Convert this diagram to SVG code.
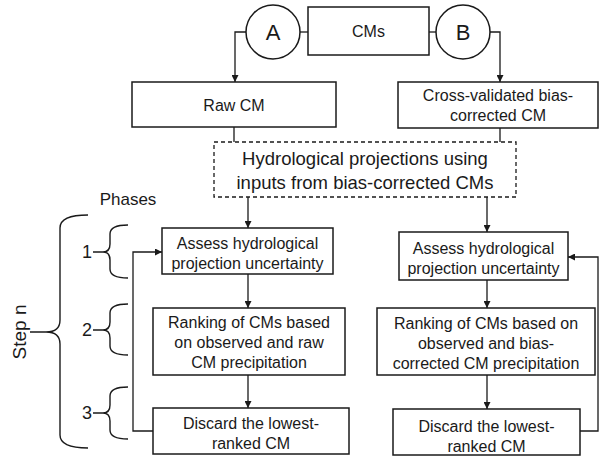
<svg xmlns="http://www.w3.org/2000/svg" width="602" height="457" viewBox="0 0 602 457">
<style>
.box{fill:#fff;stroke:#1a1a1a;stroke-width:1.5}
.dash{fill:#fff;stroke:#1a1a1a;stroke-width:1.3;stroke-dasharray:4,3}
.ln{fill:none;stroke:#1a1a1a;stroke-width:1.3}
.br{fill:none;stroke:#1a1a1a;stroke-width:1.4}
.t{font-family:"Liberation Sans",Arial,sans-serif;font-size:16px;fill:#1a1a1a;text-anchor:middle}
.big{font-size:18.5px}
.circ{font-size:22px}
.num{font-size:18px}
</style>
<defs>
<marker id="ah" viewBox="0 0 10 10" refX="10" refY="5" markerWidth="7" markerHeight="7" markerUnits="userSpaceOnUse" orient="auto">
<path d="M0,0 L10,5 L0,10 z" fill="#1a1a1a"/>
</marker>
</defs>
<g id="connectors">
<path class="ln" d="M246,32 H235 V82" marker-end="url(#ah)"/>
<path class="ln" d="M490,32 H500 V82" marker-end="url(#ah)"/>
<path class="ln" d="M300,32 H308"/>
<path class="ln" d="M429,32 H436"/>
<path class="ln" d="M234,127 V142"/>
<path class="ln" d="M500,128 V142"/>
<path class="ln" d="M248,197 V228" marker-end="url(#ah)"/>
<path class="ln" d="M487,197 V232" marker-end="url(#ah)"/>
<path class="ln" d="M248,274 V308" marker-end="url(#ah)"/>
<path class="ln" d="M248,375 V408" marker-end="url(#ah)"/>
<path class="ln" d="M487,280 V308" marker-end="url(#ah)"/>
<path class="ln" d="M487,375 V409" marker-end="url(#ah)"/>
<path class="ln" d="M153,431 H133 V252 H162" marker-end="url(#ah)"/>
<path class="ln" d="M580,431 H598 V257 H568" marker-end="url(#ah)"/>
</g>
<g id="nodeA"><circle cx="273" cy="32" r="27" class="box"/><text class="t circ" x="273" y="40">A</text></g>
<g id="nodeCMs"><rect x="308" y="7" width="121" height="48" class="box"/><text class="t" x="368.5" y="37">CMs</text></g>
<g id="nodeB"><circle cx="463" cy="32" r="27" class="box"/><text class="t circ" x="463" y="40">B</text></g>
<g id="rawCM"><rect x="132" y="82" width="204" height="45" class="box"/><text class="t" x="234" y="111">Raw CM</text></g>
<g id="cvCM"><rect x="398" y="82" width="200" height="46" class="box"/><text class="t" x="498" y="101">Cross-validated bias-</text><text class="t" x="498" y="121">corrected CM</text></g>
<g id="hydro"><rect x="214" y="142" width="302" height="55" class="dash"/><text class="t big" x="365" y="165">Hydrological projections using</text><text class="t big" x="365" y="189">inputs from bias-corrected CMs</text></g>
<g id="assessL"><rect x="162" y="228" width="171" height="46" class="box"/><text class="t" x="247.5" y="249">Assess hydrological</text><text class="t" x="247.5" y="269">projection uncertainty</text></g>
<g id="rankL"><rect x="153" y="308" width="192" height="67" class="box"/><text class="t" x="249" y="328">Ranking of CMs based</text><text class="t" x="249" y="348">on observed and raw</text><text class="t" x="249" y="368">CM precipitation</text></g>
<g id="discardL"><rect x="153" y="408" width="196" height="46" class="box"/><text class="t" x="251" y="429">Discard the lowest-</text><text class="t" x="251" y="449">ranked CM</text></g>
<g id="assessR"><rect x="399" y="232" width="169" height="48" class="box"/><text class="t" x="483.5" y="254">Assess hydrological</text><text class="t" x="483.5" y="274">projection uncertainty</text></g>
<g id="rankR"><rect x="377" y="308" width="218" height="67" class="box"/><text class="t" x="486" y="329">Ranking of CMs based on</text><text class="t" x="486" y="349">observed and bias-</text><text class="t" x="486" y="369">corrected CM precipitation</text></g>
<g id="discardR"><rect x="393" y="409" width="187" height="46" class="box"/><text class="t" x="486.5" y="432">Discard the lowest-</text><text class="t" x="486.5" y="452">ranked CM</text></g>
<g id="phases">
<text class="t" x="128" y="205" style="font-size:17px">Phases</text>
<path class="br" d="M88,215 Q60,215 60,228 L60,320 Q60,332 46,332 L30,332 M46,332 Q60,332 60,344 L60,435 Q60,448 88,448"/>
<text class="t" style="font-size:19px" transform="translate(26,332) rotate(-90)">Step n</text>
<path class="br" d="M128,225 Q110,225 110,234 L110,244 Q110,252 103,252 L93,252 M103,252 Q110,252 110,260 L110,269 Q110,278 128,278"/>
<text class="t num" x="87" y="258">1</text>
<path class="br" d="M128,304 Q110,304 110,313 L110,322 Q110,330 103,330 L93,330 M103,330 Q110,330 110,338 L110,346 Q110,355 128,355"/>
<text class="t num" x="87" y="336">2</text>
<path class="br" d="M128,387 Q110,387 110,396 L110,405 Q110,413 103,413 L93,413 M103,413 Q110,413 110,421 L110,430 Q110,439 128,439"/>
<text class="t num" x="87" y="419">3</text>
</g>
</svg>
